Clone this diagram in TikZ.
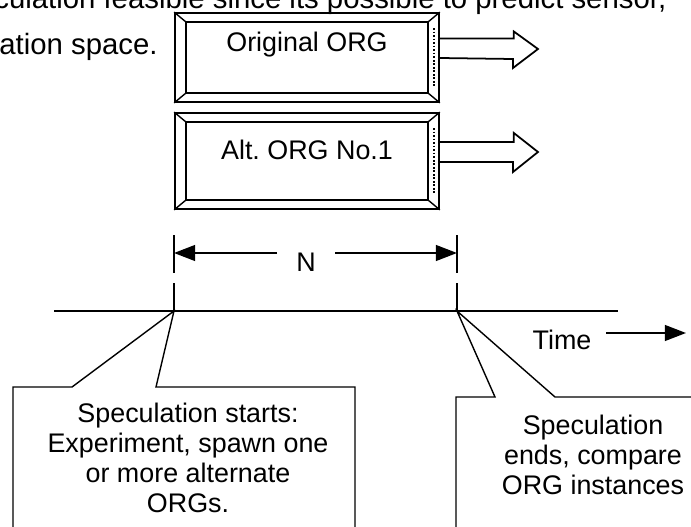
\documentclass[tikz,border=0pt]{standalone}
\usepackage{fontspec}
\setmainfont{Liberation Sans}
\usetikzlibrary{arrows.meta,calc,positioning}

\tikzset{
  orgbox/.style={draw, line width=1pt, minimum width=5.28cm, minimum height=1.78cm, inner sep=0pt},
  bevel/.style={line width=0.8pt},
  hollow/.style={draw, line width=1pt, line join=miter},
  callout/.style={draw, line width=0.8pt},
  dimarrow/.style={line width=1pt, -{Triangle[length=12pt,width=9pt]}},
  figtext/.style={font=\fontsize{15.3}{17}\selectfont, align=center},
  bodytext/.style={font=\fontsize{16.7}{20}\selectfont, inner sep=0pt, anchor=base west},
}

\begin{document}
\begin{tikzpicture}[x=0.02cm, y=-0.02cm]
\useasboundingbox (0,0) rectangle (691,527);
\clip (0,0) rectangle (691,527);
% page text round the figure
\node[bodytext] (line1) at (-6,9) {culation feasible since its possible to predict sensor,};
\node[bodytext] (line2) at (-1,55) {ation space.};

% ORG boxes
\node[orgbox] (orig) at (307,57.5) {};
\node[orgbox, minimum height=1.92cm] (alt) at (307,161) {};
\foreach \b in {orig,alt} {
  \draw[bevel] ($(\b.north west)+(12,10)$) rectangle ($(\b.south east)+(-12,-10)$);
  \draw[bevel] (\b.north west) -- ++(12,10) (\b.north east) -- ++(-12,10)
               (\b.south west) -- ++(12,-10) (\b.south east) -- ++(-12,-10);
  \draw[line width=1.5pt, dash pattern=on 1pt off 1pt] ($(\b.north east)+(-6,16)$) -- ($(\b.south east)+(-6,-16)$);
}
\node[figtext] (origtxt) at (307,45) {Original ORG};
\node[figtext] (alttxt) at (307,150) {Alt.\ ORG No.1};

% outputs
\coordinate (tip1) at (538,49);
\coordinate (tip2) at (538,152);
\draw[hollow] ($(orig.east)+(0,-19)$) -- ++(74,0) -- ++(0,-7) -- (tip1) -- ++(-25,19) -- ++(0,-9) -- ($(orig.east)+(0,0.5)$);
\draw[hollow] ($(alt.east)+(0,-19)$) -- ++(74,0) -- ++(0,-9) -- (tip2) -- ++(-25,20) -- ++(0,-10) -- ($(alt.east)+(0,1)$);

% time line
\coordinate (t0) at (54,311);
\coordinate (t1) at (618,311);
\coordinate (start) at (174,311);
\coordinate (end) at (457,311);
\draw[line width=1pt] (t0) -- (t1);
\draw[line width=0.8pt] (start) -- ++(0,-28) (start) ++(0,-38) -- ++(0,-38)
                        (end) -- ++(0,-28) (end) ++(0,-38) -- ++(0,-38);

% span N
\node[figtext] (n) at (306,262) {N};
\coordinate (nl) at (277,253);
\coordinate (nr) at (335,253);
\draw[dimarrow] (nl) -- (start |- nl);
\draw[dimarrow] (nr) -- (end |- nr);

\node[figtext] (time) at (562,340) {Time};
\coordinate (tend) at (686,333);
\draw[dimarrow] (606,333) -- (tend);

% callouts
\draw[callout] (13,540) -- (13,387) -- (72,387) -- (start) -- (156,387) -- (355,387) -- (355,540);
\node[figtext] (starttxt) at (188,458) {Speculation starts:\\Experiment, spawn one\\or more alternate\\ORGs.};
\draw[callout] (456,540) -- (456,397) -- (495,397) -- (end) -- (555,397) -- (700,397);
\node[figtext] (endtxt) at (593,455) {Speculation\\ends, compare\\ORG instances};
\end{tikzpicture}
\end{document}
